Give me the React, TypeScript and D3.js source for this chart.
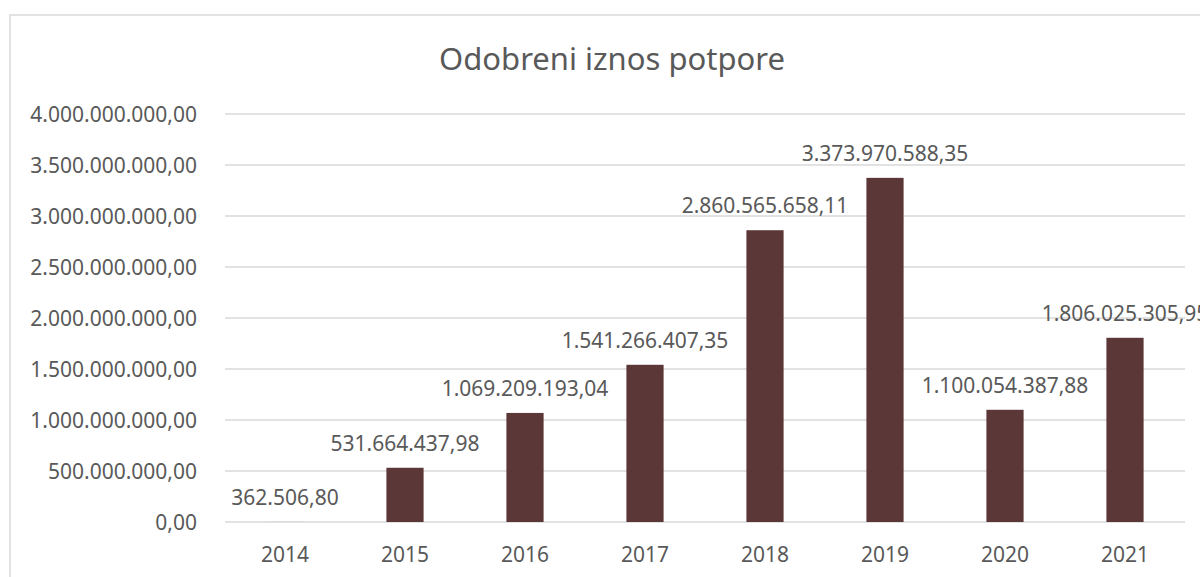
import React, { useEffect, useRef } from 'react';
import * as d3 from 'd3';

const years = ['2014', '2015', '2016', '2017', '2018', '2019', '2020', '2021'];
const amounts = [
  362506.8, 531664437.98, 1069209193.04, 1541266407.35, 2860565658.11, 3373970588.35,
  1100054387.88, 1806025305.95,
];
const yTicks = [0, 500000000, 1000000000, 1500000000, 2000000000, 2500000000, 3000000000, 3500000000, 4000000000];
const title = 'Odobreni iznos potpore';

const hr = d3.formatLocale({ decimal: ',', thousands: '.', grouping: [3], currency: ['', ''] });
const fmt = hr.format(',.2f');

const App = () => {
  const svgRef = useRef<SVGSVGElement>(null);

  useEffect(() => {
    const svg = d3.select(svgRef.current);
    svg.selectAll('*').remove();

    const width = 1200;
    const height = 577;
    const margin = { top: 114, right: 15, bottom: 55, left: 225 };
    const font = '"Noto Sans", "Open Sans", sans-serif';
    const textColor = '#595959';

    // chart frame (cut off at right and bottom like the screenshot)
    svg.append('rect')
      .attr('x', 10).attr('y', 15)
      .attr('width', 1400).attr('height', 800)
      .attr('fill', '#fff')
      .attr('stroke', '#d9d9d9')
      .attr('stroke-width', 1.5);

    const xScale = d3.scaleBand()
      .domain(years)
      .range([margin.left, width - margin.right])
      .paddingInner(0.69)
      .paddingOuter(0.345);

    const yScale = d3.scaleLinear()
      .domain([0, 4000000000])
      .range([height - margin.bottom, margin.top]);

    // gridlines
    svg.append('g')
      .selectAll('line')
      .data(yTicks)
      .join('line')
      .attr('x1', margin.left)
      .attr('x2', width - margin.right)
      .attr('y1', d => yScale(d))
      .attr('y2', d => yScale(d))
      .attr('stroke', '#d9d9d9')
      .attr('stroke-width', 1.5);

    // y labels
    svg.append('g')
      .selectAll('text')
      .data(yTicks)
      .join('text')
      .attr('x', 197)
      .attr('y', d => yScale(d))
      .attr('dy', '0.36em')
      .attr('text-anchor', 'end')
      .attr('font-family', font)
      .attr('font-size', 21)
      .attr('fill', textColor)
      .text(d => fmt(d));

    // bars
    svg.append('g')
      .selectAll('rect')
      .data(amounts)
      .join('rect')
      .attr('x', (d, i) => xScale(years[i])!)
      .attr('y', d => yScale(d))
      .attr('width', xScale.bandwidth())
      .attr('height', d => yScale(0) - yScale(d))
      .attr('fill', '#5b3737');

    // value labels
    svg.append('g')
      .selectAll('text')
      .data(amounts)
      .join('text')
      .attr('x', (d, i) => xScale(years[i])! + xScale.bandwidth() / 2)
      .attr('y', d => yScale(d) - 17)
      .attr('text-anchor', 'middle')
      .attr('font-family', font)
      .attr('font-size', 21)
      .attr('fill', textColor)
      .text(d => fmt(d));

    // x labels
    svg.append('g')
      .selectAll('text')
      .data(years)
      .join('text')
      .attr('x', d => xScale(d)! + xScale.bandwidth() / 2)
      .attr('y', 562)
      .attr('text-anchor', 'middle')
      .attr('font-family', font)
      .attr('font-size', 21)
      .attr('fill', textColor)
      .text(d => d);

    // title
    svg.append('text')
      .attr('x', 612)
      .attr('y', 70)
      .attr('text-anchor', 'middle')
      .attr('font-family', font)
      .attr('font-size', 31)
      .attr('fill', textColor)
      .text(title);
  }, []);

  return (
    <svg
      ref={svgRef}
      width={1200}
      height={577}
      style={{ position: 'absolute', left: 0, top: 0, background: '#fff' }}
    ></svg>
  );
};

export default App;
